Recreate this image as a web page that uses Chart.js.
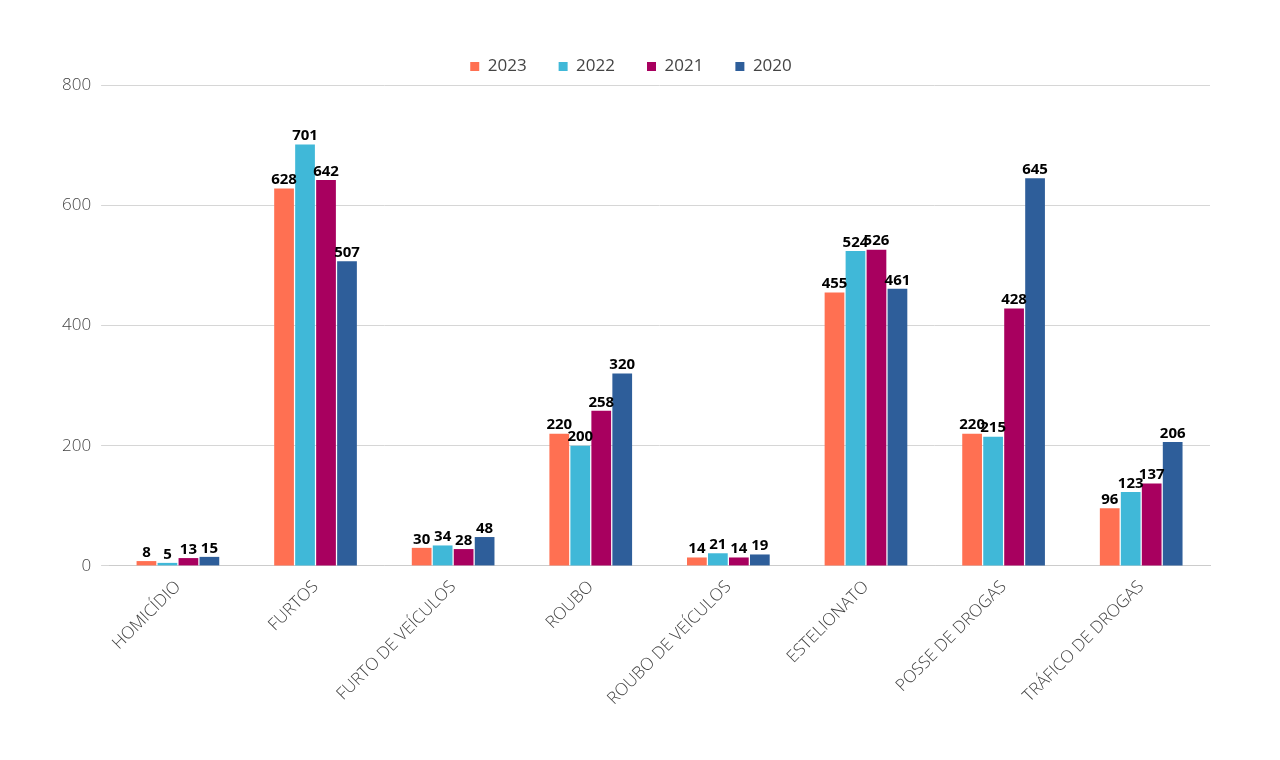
<!DOCTYPE html>
<html>
<head>
<meta charset="utf-8">
<script src="https://cdn.jsdelivr.net/npm/chart.js@4"></script>
<style>
  body { margin: 0; background: #fff; }
  #wrap { width: 1280px; height: 760px; }
</style>
</head>
<body>
<div id="wrap"><canvas id="c"></canvas></div>
<script>
const categories = ['HOMICÍDIO', 'FURTOS', 'FURTO DE VEÍCULOS', 'ROUBO', 'ROUBO DE VEÍCULOS', 'ESTELIONATO', 'POSSE DE DROGAS', 'TRÁFICO DE DROGAS'];
const v2023 = [8, 628, 30, 220, 14, 455, 220, 96];
const v2022 = [5, 701, 34, 200, 21, 524, 215, 123];
const v2021 = [13, 642, 28, 258, 14, 526, 428, 137];
const v2020 = [15, 507, 48, 320, 19, 461, 645, 206];

// draws the bold value above each bar
const valueLabels = {
    id: 'valueLabels',
    afterDatasetsDraw(chart) {
        const ctx = chart.ctx;
        ctx.save();
        ctx.font = 'bold 15px "Open Sans"';
        ctx.fillStyle = '#000';
        ctx.textAlign = 'center';
        ctx.textBaseline = 'bottom';
        chart.data.datasets.forEach((ds, i) => {
            chart.getDatasetMeta(i).data.forEach((bar, j) => {
                ctx.fillText(ds.data[j], bar.x, bar.y - 1);
            });
        });
        ctx.restore();
    }
};

new Chart(document.getElementById('c'), {
    type: 'bar',
    data: {
        labels: categories,
        datasets: [
            { label: '2023', data: v2023, backgroundColor: '#FF7052' },
            { label: '2022', data: v2022, backgroundColor: '#40B8D8' },
            { label: '2021', data: v2021, backgroundColor: '#A8005F' },
            { label: '2020', data: v2020, backgroundColor: '#2E5E9A' }
        ]
    },
    options: {
        responsive: true,
        maintainAspectRatio: false,
        animation: false,
        datasets: { bar: { categoryPercentage: 0.61, barPercentage: 0.94 } },
        layout: { padding: { left: 52, right: 70, top: 26, bottom: 48 } },
        plugins: {
            legend: {
                labels: {
                    usePointStyle: true,
                    pointStyle: 'rect',
                    boxWidth: 9,
                    boxHeight: 9,
                    padding: 32,
                    color: '#444',
                    font: { family: 'Open Sans', size: 17 }
                }
            },
            tooltip: { enabled: false }
        },
        scales: {
            x: {
                grid: { display: false },
                border: { color: '#ccc' },
                ticks: {
                    color: '#444',
                    maxRotation: 45,
                    minRotation: 45,
                    font: { family: 'Open Sans', size: 17, weight: 300 }
                }
            },
            y: {
                min: 0,
                max: 800,
                ticks: {
                    stepSize: 200,
                    color: '#444',
                    padding: 10,
                    font: { family: 'Open Sans', size: 17, weight: 300 }
                },
                grid: { color: '#d6d6d6' },
                border: { display: false }
            }
        }
    },
    plugins: [valueLabels]
});
</script>
</body>
</html>
